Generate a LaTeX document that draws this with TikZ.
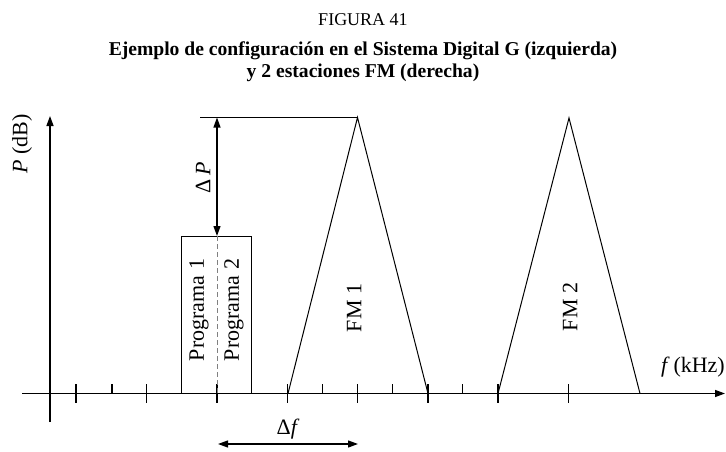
\documentclass[tikz,border=0pt]{standalone}
\usepackage{fontspec}
\setmainfont{Liberation Serif}
\usetikzlibrary{arrows.meta}
\begin{document}
\begin{tikzpicture}[x=1pt,y=-1pt,
  axisline/.style={line width=1.4pt,-{Triangle[length=10pt,width=7pt]}},
  tickline/.style={line width=1.3pt},
  shapeline/.style={line width=1pt},
  dimline/.style={line width=1.2pt,{Triangle[length=10pt,width=7pt]}-{Triangle[length=10pt,width=7pt]}},
  lbl/.style={inner sep=0pt,font=\fontsize{22}{24}\selectfont},
  rlbl/.style={lbl,rotate=90},
  ttl/.style={inner sep=0pt,font=\fontsize{19.6}{22}\selectfont\bfseries}]
\useasboundingbox (0,0) rectangle (726,452);
% titles
\node[inner sep=0pt,font=\fontsize{18}{20}\selectfont] (fig) at (363,20) {FIGURA 41};
\node[ttl] (t1) at (363,51) {Ejemplo de configuración en el Sistema Digital G (izquierda)};
\node[ttl] (t2) at (363,73) {y 2 estaciones FM (derecha)};
% axes
\coordinate (xs) at (22,393.5); \coordinate (xe) at (725,393.5);
\coordinate (ys) at (50,422); \coordinate (ye) at (50,116);
\draw[axisline] (xs) -- (xe);
\draw[axisline] (ys) -- (ye);
\foreach \x in {76,146.5,217,287.5,357.5,428,498,568.5} \draw[tickline] (\x,384) -- (\x,403);
\foreach \x in {112,322.5,392.5,462.5} \draw[tickline] (\x,384) -- (\x,393.5);
% programme block
\coordinate (rbl) at (181.5,393.5); \coordinate (rtr) at (251.5,236);
\coordinate (dt) at (217,236); \coordinate (db) at (217,393.5);
\draw[shapeline] (rbl) rectangle (rtr);
\draw[line width=0.8pt,gray,dash pattern=on 5pt off 3pt] (dt) -- (db);
% FM triangles
\coordinate (f1l) at (288,393.5); \coordinate (f1t) at (357.5,117.5); \coordinate (f1r) at (428,393.5);
\coordinate (f2l) at (498,393.5); \coordinate (f2t) at (569,118); \coordinate (f2r) at (640,393.5);
\draw[shapeline] (f1l) -- (f1t) -- (f1r);
\draw[shapeline] (f2l) -- (f2t) -- (f2r);
% reference line and dimension arrows
\coordinate (hl) at (200,117.5); \coordinate (pt) at (217,117.5);
\draw[shapeline] (hl) -- (f1t);
\draw[dimline] (pt) -- (dt);
\coordinate (dfl) at (218,444); \coordinate (dfr) at (358,444);
\draw[dimline] (dfl) -- (dfr);
% labels
\node[rlbl] (pdb) at (22,144) {\textit{P} (dB)};
\node[rlbl] (dp) at (203,178) {Δ\,\textit{P}};
\node[rlbl] (p1) at (199,310) {Programa 1};
\node[rlbl] (p2) at (234,310) {Programa 2};
\node[rlbl] (fm1) at (354,308) {FM 1};
\node[rlbl] (fm2) at (570,307) {FM 2};
\node[lbl] (df) at (288,429) {Δ\textit{f}};
\node[lbl,anchor=base east] (fk) at (725,372) {\textit{f}\,(kHz)};
\end{tikzpicture}
\end{document}
